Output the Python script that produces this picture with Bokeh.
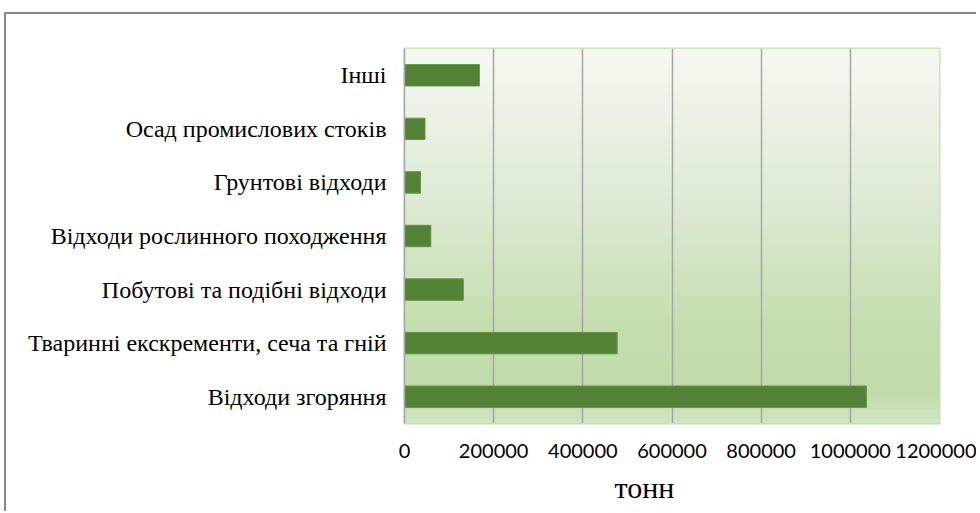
import numpy as np
from bokeh.plotting import figure
from bokeh.models import Range1d, FixedTicker, Title, NumeralTickFormatter
from bokeh.embed import file_html
from bokeh.resources import INLINE

# ---- data (bottom to top, as drawn) ----
categories = [
    "Відходи згоряння",
    "Тваринні екскременти, сеча та гній",
    "Побутові та подібні відходи",
    "Відходи рослинного походження",
    "Грунтові відходи",
    "Осад промислових стоків",
    "Інші",
]
values = [1036000, 477000, 132000, 59000, 36000, 46000, 168000]
x_ticks = [0, 200000, 400000, 600000, 800000, 1000000, 1200000]
x_title = "тонн"

positions = list(range(len(categories)))
SERIF = "'Liberation Serif', 'Times New Roman', serif"

p = figure(
    width=972, height=499,
    output_backend="svg", toolbar_location=None,
    x_range=Range1d(0, 1200000),
    y_range=Range1d(-0.5, len(categories) - 0.5),
    min_border_left=398, min_border_top=34,
    min_border_right=39, min_border_bottom=90,
)
p.styles = {"position": "relative", "left": "4px", "top": "12px",
            "border-left": "2px solid #878787", "border-top": "2px solid #878787"}

# background gradient in the plot area
stops_f = [0.0, 0.08, 0.25, 0.6, 1.0]  # from bottom
stops_c = [(0xd2, 0xe6, 0xc4), (0xc1, 0xdc, 0xab), (0xc4, 0xde, 0xaf), (0xdf, 0xeb, 0xd5), (0xf6, 0xf9, 0xf3)]
n = 300
img = np.zeros((n, 1), dtype=np.uint32)
view = img.view(dtype=np.uint8).reshape((n, 1, 4))
fr = np.linspace(0, 1, n)
for ch in range(3):
    view[:, 0, ch] = np.interp(fr, stops_f, [c[ch] for c in stops_c]).astype(np.uint8)
view[:, 0, 3] = 255
p.image_rgba(image=[img], x=0, y=-0.5, dw=1200000, dh=len(categories), level="image")

p.hbar(y=positions, right=values, left=0, height=0.4,
       fill_color="#538135", line_color="#679547", line_width=1)

p.background_fill_color = "white"
p.border_fill_color = "white"
p.outline_line_color = "#c4dfb2"
p.outline_line_width = 2

# grid
p.xgrid.ticker = FixedTicker(ticks=x_ticks)
p.xgrid.grid_line_color = "#a6a6a6"
p.xgrid.grid_line_width = 1.5
p.ygrid.grid_line_color = None

# x axis
p.xaxis.ticker = FixedTicker(ticks=x_ticks)
p.xaxis.formatter = NumeralTickFormatter(format="0")
p.xaxis.axis_line_color = None
p.xaxis.major_tick_line_color = None
p.xaxis.minor_tick_line_color = None
p.xaxis.major_label_text_font = "Lato"
p.xaxis.major_label_text_font_size = "20px"
p.xaxis.major_label_text_color = "#000000"
p.xaxis.major_label_standoff = 14

# y axis
p.yaxis.ticker = FixedTicker(ticks=positions)
p.yaxis.major_label_overrides = {i: c for i, c in zip(positions, categories)}
p.yaxis.axis_line_color = "#a6a6a6"
p.yaxis.axis_line_width = 1.5
p.yaxis.major_tick_line_color = None
p.yaxis.minor_tick_line_color = None
p.yaxis.major_label_text_font = SERIF
p.yaxis.major_label_text_font_size = "24px"
p.yaxis.major_label_text_color = "#000000"
p.yaxis.major_label_standoff = 12

t = Title(text=x_title, align="left", offset=210,
          text_font=SERIF, text_font_size="30px",
          text_font_style="normal", text_color="#000000", standoff=17)
p.add_layout(t, "below")

open("out.html", "w").write(file_html(p, INLINE))
